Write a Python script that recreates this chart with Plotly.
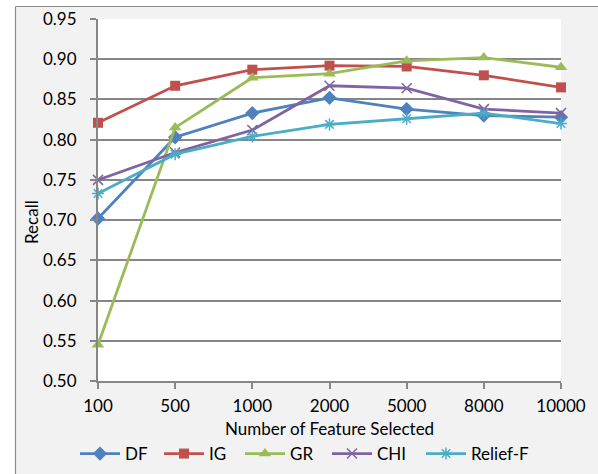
import plotly.graph_objects as go

categories = ["100", "500", "1000", "2000", "5000", "8000", "10000"]
df_vals = [0.702, 0.803, 0.833, 0.852, 0.838, 0.830, 0.828]
ig_vals = [0.821, 0.867, 0.887, 0.892, 0.891, 0.880, 0.865]
gr_vals = [0.545, 0.815, 0.877, 0.882, 0.898, 0.902, 0.890]
chi_vals = [0.750, 0.784, 0.812, 0.867, 0.864, 0.838, 0.833]
relief_vals = [0.733, 0.782, 0.804, 0.819, 0.826, 0.833, 0.820]
y_ticks = [0.50, 0.55, 0.60, 0.65, 0.70, 0.75, 0.80, 0.85, 0.90, 0.95]

FONT = "Lato"
W, H = 598, 474
L, R, T, B = 98, 37, 19, 93
pw, ph = W - L - R, H - T - B

def px(X):
    return (X - L) / pw

def py(Y):
    return (H - B - Y) / ph

series = [
    ("DF", df_vals, "#4F81BD", dict(symbol="diamond", size=11), 81),
    ("IG", ig_vals, "#C0504D", dict(symbol="square", size=10), 165),
    ("GR", gr_vals, "#9BBB59", dict(symbol="triangle-up", size=11), 246),
    ("CHI", chi_vals, "#8064A2", dict(symbol="x-thin-open", size=10, line=dict(width=1.5, color="#8064A2")), 333),
    ("Relief-F", relief_vals, "#4BACC6", dict(symbol="asterisk-open", size=10, line=dict(width=1.5, color="#4BACC6")), 427),
]

fig = go.Figure()
legend_layouts = {}
for i, (name, vals, color, mk, lx) in enumerate(series):
    mk = dict(mk)
    mk["color"] = color
    lg = "legend" if i == 0 else f"legend{i + 1}"
    fig.add_trace(go.Scatter(
        x=categories, y=vals, name=name, mode="lines+markers",
        line=dict(color=color, width=2.8), marker=mk, cliponaxis=False,
        legend=lg,
    ))
    legend_layouts[lg] = dict(
        orientation="h", x=px(lx - 6), xanchor="left", y=py(454), yanchor="middle",
        bgcolor="rgba(0,0,0,0)", font=dict(size=17, family=FONT), itemwidth=40,
    )

fig.update_layout(
    width=W, height=H,
    margin=dict(l=L, r=R, t=T, b=B, autoexpand=False),
    paper_bgcolor="#F2F2F2",
    plot_bgcolor="#FFFFFF",
    font=dict(family=FONT, size=17, color="#000000"),
    showlegend=True,
    xaxis=dict(
        type="category", range=[0, 6], showgrid=False,
        showline=True, linecolor="#868686", linewidth=2,
        ticks="outside", ticklen=6, tickcolor="#868686", tickwidth=1.5,
        ticklabelstandoff=3, tickfont=dict(size=17),
        zeroline=False, fixedrange=True, automargin=False,
    ),
    yaxis=dict(
        range=[0.5, 0.95], tickvals=y_ticks, tickformat=".2f",
        showgrid=True, gridcolor="#868686", gridwidth=1.5,
        showline=True, linecolor="#868686", linewidth=2,
        ticks="outside", ticklen=6, tickcolor="#868686", tickwidth=1.5,
        ticklabelstandoff=10, tickfont=dict(size=17),
        zeroline=False, fixedrange=True, automargin=False,
    ),
    annotations=[
        dict(text="Number of Feature Selected", xref="paper", yref="paper",
             x=0.5, y=py(428), xanchor="center", yanchor="middle",
             showarrow=False, font=dict(size=17)),
        dict(text="Recall", xref="paper", yref="paper",
             x=px(32), y=py(222), xanchor="center", yanchor="middle",
             textangle=-90, showarrow=False, font=dict(size=17)),
    ],
    shapes=[
        dict(type="rect", xref="paper", yref="paper", x0=-0.4, x1=1.3,
             y0=py(6.5), y1=1.2, fillcolor="#FFFFFF", line=dict(width=0), layer="below"),
        dict(type="rect", xref="paper", yref="paper", x0=-0.4, x1=px(15.5),
             y0=-0.5, y1=1.2, fillcolor="#FFFFFF", line=dict(width=0), layer="below"),
        dict(type="line", xref="paper", yref="paper", x0=px(15.5), x1=px(15.5),
             y0=-0.5, y1=py(6.5), line=dict(color="#8C8C8C", width=1.2), layer="below"),
        dict(type="line", xref="paper", yref="paper", x0=px(15.5), x1=1.3,
             y0=py(6.5), y1=py(6.5), line=dict(color="#8C8C8C", width=1.2), layer="below"),
    ],
    **legend_layouts,
)

fig.write_html("out.html")
